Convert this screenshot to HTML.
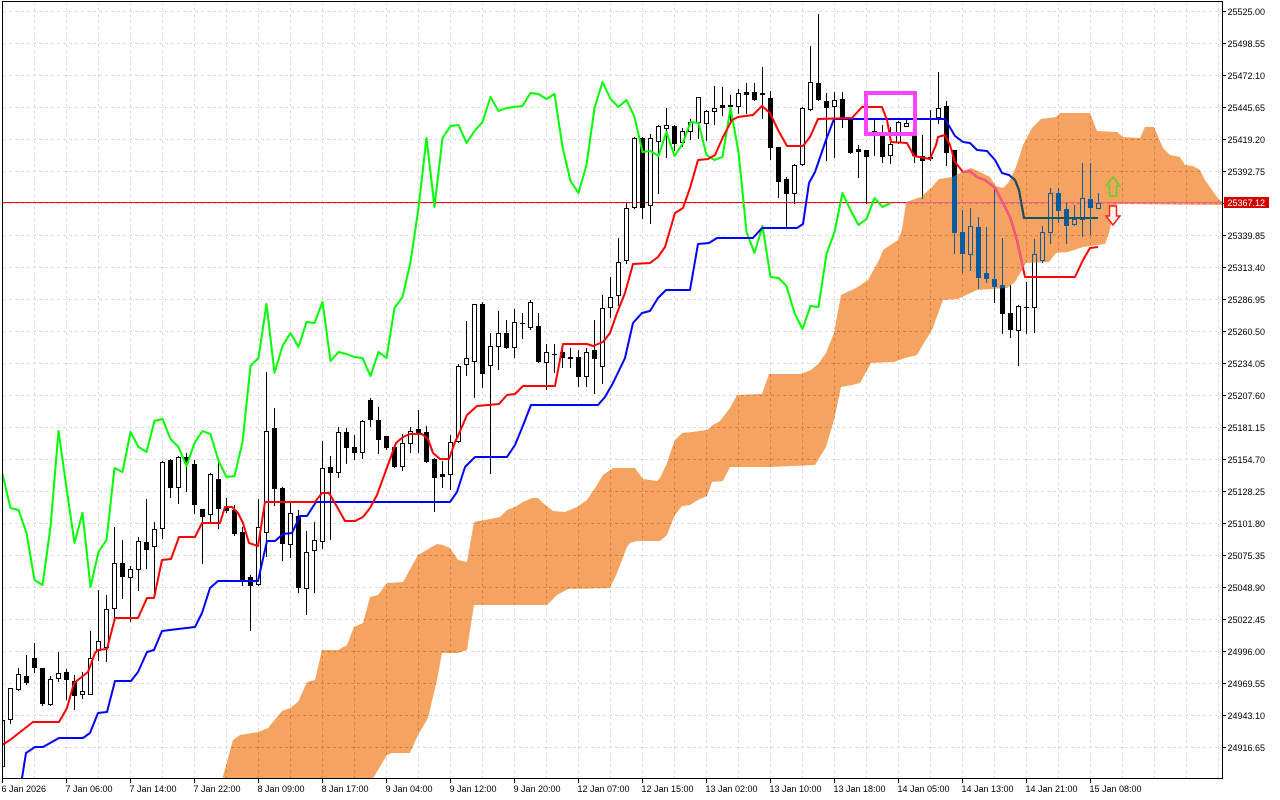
<!DOCTYPE html>
<html><head><meta charset="utf-8">
<style>
html,body{margin:0;padding:0;background:#fff;width:1280px;height:800px;overflow:hidden}
svg{display:block}
</style></head><body>
<svg id="svg" width="1280" height="800" viewBox="0 0 1280 800" xmlns="http://www.w3.org/2000/svg">
<defs><clipPath id="clip"><rect x="3" y="2" width="1219" height="776"/></clipPath></defs>
<rect width="1280" height="800" fill="#fff"/>
<g clip-path="url(#clip)">
  <rect x="0" y="0" width="1280" height="800" fill="#fff"/>
  <g id="grid" stroke="#dddddd" stroke-width="1" stroke-dasharray="3,3" fill="none"></g>
  <line x1="2" y1="202.5" x2="1222" y2="202.5" stroke="#ff0000" stroke-width="1"/>
  <g id="candles"></g>
  <polyline id="chikou" fill="none" stroke="#00ff00" stroke-width="2" stroke-linejoin="round"/>
  <polyline id="kijun" fill="none" stroke="#0000ff" stroke-width="2" stroke-linejoin="round"/>
  <polyline id="tenkan" fill="none" stroke="#ff0000" stroke-width="2" stroke-linejoin="round"/>
  <polygon id="cloud" fill="rgb(11,91,159)" style="mix-blend-mode:difference"/>
  <rect x="866" y="93" width="49" height="41" fill="none" stroke="#ff44ff" stroke-width="4"/>
  <polygon points="1113,177 1120,186 1116.5,186 1116.5,196 1109.5,196 1109.5,186 1106,186" fill="none" stroke="#66cc33" stroke-width="1.5"/>
  <polygon points="1109.5,206 1116.5,206 1116.5,216 1120,216 1113,225 1106,216 1109.5,216" fill="#fff6f0" stroke="#ff2020" stroke-width="1.5"/>
</g>
<rect x="2.5" y="1.5" width="1220" height="777" fill="none" stroke="#000" stroke-width="1"/>
<g id="ticks" stroke="#000" stroke-width="1"></g>
<g font-family="Liberation Sans, Arial, sans-serif" font-size="9" fill="#000">
<text x="1227.5" y="15">25525.00</text>
<text x="1227.5" y="47">25498.55</text>
<text x="1227.5" y="79">25472.10</text>
<text x="1227.5" y="111">25445.65</text>
<text x="1227.5" y="143">25419.20</text>
<text x="1227.5" y="175">25392.75</text>
<text x="1227.5" y="239">25339.85</text>
<text x="1227.5" y="271">25313.40</text>
<text x="1227.5" y="303">25286.95</text>
<text x="1227.5" y="335">25260.50</text>
<text x="1227.5" y="367">25234.05</text>
<text x="1227.5" y="399">25207.60</text>
<text x="1227.5" y="431">25181.15</text>
<text x="1227.5" y="463">25154.70</text>
<text x="1227.5" y="495">25128.25</text>
<text x="1227.5" y="527">25101.80</text>
<text x="1227.5" y="559">25075.35</text>
<text x="1227.5" y="591">25048.90</text>
<text x="1227.5" y="623">25022.45</text>
<text x="1227.5" y="655">24996.00</text>
<text x="1227.5" y="687">24969.55</text>
<text x="1227.5" y="719">24943.10</text>
<text x="1227.5" y="751">24916.65</text>
<text x="1.5" y="792">6 Jan 2026</text>
<text x="65.5" y="792">7 Jan 06:00</text>
<text x="129.5" y="792">7 Jan 14:00</text>
<text x="193.5" y="792">7 Jan 22:00</text>
<text x="257.5" y="792">8 Jan 09:00</text>
<text x="321.5" y="792">8 Jan 17:00</text>
<text x="385.5" y="792">9 Jan 04:00</text>
<text x="449.5" y="792">9 Jan 12:00</text>
<text x="513.5" y="792">9 Jan 20:00</text>
<text x="577.5" y="792">12 Jan 07:00</text>
<text x="641.5" y="792">12 Jan 15:00</text>
<text x="705.5" y="792">13 Jan 02:00</text>
<text x="769.5" y="792">13 Jan 10:00</text>
<text x="833.5" y="792">13 Jan 18:00</text>
<text x="897.5" y="792">14 Jan 05:00</text>
<text x="961.5" y="792">14 Jan 13:00</text>
<text x="1025.5" y="792">14 Jan 21:00</text>
<text x="1089.5" y="792">15 Jan 08:00</text>
</g>
<rect x="1224" y="197" width="45" height="11" fill="#d40000"/>
<text x="1227.5" y="206" font-family="Liberation Sans, Arial, sans-serif" font-size="9" fill="#fff">25367.12</text>
</svg>
<script>
(function(){
var NS='http://www.w3.org/2000/svg';
function el(tag,attrs,parent){var e=document.createElementNS(NS,tag);for(var k in attrs)e.setAttribute(k,attrs[k]);parent.appendChild(e);return e;}
var C=[[766,720,716,770],[719,688,688,723],[689,674,668,690],[676,682,655,684],[658,667,643,672],[668,703,668,705],[704,679,676,705],[678,673,652,681],[672,679,669,699],[681,695,675,709],
[694,691,672,698],[694,658,631,694],[650,641,590,660],[647,609,595,661],[608,563,527,618],[563,576,540,598],[577,569,566,621],[569,541,537,590],[542,549,499,568],[546,529,522,597],
[528,462,461,538],[460,487,459,497],[487,457,456,503],[457,462,453,491],[464,504,460,513],[509,516,509,563],[514,474,473,523],[479,508,463,528],[507,510,498,512],[510,533,505,535],
[532,580,527,585],[577,585,575,630],[584,527,499,585],[532,431,372,556],[428,488,408,505],[488,543,487,560],[544,513,503,557],[516,587,510,592],[588,552,531,614],[550,540,522,592],
[541,468,441,548],[467,472,456,539],[472,432,427,477],[432,447,428,463],[447,452,435,459],[452,421,420,458],[400,419,398,426],[420,439,407,453],[436,447,436,449],[447,466,445,467],
[466,443,434,470],[443,431,427,452],[429,434,410,452],[432,461,426,462],[459,477,458,511],[474,476,461,487],[474,442,435,489],[441,366,364,442],[364,358,321,375],[361,304,304,397],
[304,373,302,387],[365,346,333,473],[346,333,311,369],[333,347,320,348],[347,322,309,357],[323,323,313,338],[327,302,300,329],[326,361,313,362],[362,352,344,389],[354,354,344,372],
[352,357,344,367],[357,358,348,367],[357,376,350,386],[376,352,348,386],[350,358,320,393],[366,308,295,383],[307,297,277,317],[295,262,238,305],[260,208,203,263],[207,138,137,208],
[138,207,137,218],[205,138,134,223],[141,126,125,193],[128,125,108,157],[126,143,125,150],[142,131,128,146],[131,122,119,139],[122,97,97,138],[123,111,110,140],[111,108,86,124],
[105,107,87,115],[105,106,95,120],[106,93,89,113],[92,94,83,113],[92,99,83,100],[93,94,67,118],[98,147,91,159],[147,181,147,197],[179,193,177,226],[193,165,164,203],
[164,108,107,165],[109,82,46,110],[83,99,14,100],[101,107,93,160],[106,100,92,157],[99,117,92,127],[119,152,118,153],[149,151,145,177],[150,156,150,203],[131,132,118,155],
[132,156,125,162],[155,144,127,163],[142,122,121,143],[126,123,120,126],[135,155,119,162],[156,160,135,198],[158,157,110,160],[117,108,72,123],[106,152,101,165],[150,232,150,253],
[232,253,210,272],[254,226,208,270],[227,277,217,288],[273,278,227,282],[279,286,190,302],[285,313,238,333],[313,329,285,337],[330,306,305,365],[307,307,282,333],[307,254,239,332],
[260,232,226,262],[232,193,188,243],[193,210,188,222],[209,225,203,243],[224,219,205,225],[219,198,163,236],[199,207,163,234],[208,203,193,208]];
var cg=document.getElementById('candles');
for(var k=0;k<C.length;k++){
  var x=2.5+8*k,o=C[k][0],c=C[k][1],h=C[k][2],l=C[k][3];
  el('line',{x1:x,y1:h,x2:x,y2:l+1,stroke:'#000','stroke-width':1},cg);
  var top=Math.min(o,c),bot=Math.max(o,c);
  if(bot-top<1){el('line',{x1:x-2.5,y1:top+0.5,x2:x+2.5,y2:top+0.5,stroke:'#000','stroke-width':1},cg);}
  else{el('rect',{x:x-2,y:top+0.5,width:4,height:bot-top,fill:(c<o?'#fff':'#000'),stroke:'#000','stroke-width':1},cg);}
}
var ch=[];
for(var k=0;k+26<C.length;k++){ch.push((2.5+8*k)+','+C[k+26][1]);}
document.getElementById('chikou').setAttribute('points',ch.join(' '));
var tenkan=[[-4,748],[2,745],[10,740],[33,722],[59,722],[67,708],[74,683],[88,672],[95,653],[98,650],[107,649],[115,618],[138,618],[147,598],[154,598],[162,560],[171,559],[179,537],[195,537],[202,523],[220,523],[225,507],[232,507],[238,513],[243,523],[249,543],[258,546],[265,502],[315,502],[322,493],[329,493],[336,505],[345,521],[355,521],[363,517],[370,508],[377,495],[385,473],[396,443],[403,437],[410,434],[422,434],[428,439],[433,453],[440,459],[449,459],[455,442],[458,436],[467,415],[477,406],[499,404],[507,395],[515,394],[523,386],[555,386],[563,344],[587,344],[593,346],[603,342],[610,333],[617,313],[625,293],[633,264],[650,263],[658,257],[665,247],[675,213],[683,208],[690,188],[698,160],[708,159],[715,155],[723,137],[732,120],[738,117],[753,115],[762,106],[770,113],[778,130],[787,146],[803,146],[810,137],[818,119],[852,118],[862,107],[882,107],[887,120],[891,142],[907,143],[914,156],[930,159],[936,145],[938,137],[945,135],[950,145],[955,162],[963,172],[970,171],[977,177],[985,180],[995,188],[1003,203],[1010,217],[1017,240],[1025,277],[1075,277],[1083,260],[1090,248],[1098,247]];
var kijun=[[18,792],[22,778],[26,753],[35,747],[43,747],[59,738],[83,738],[90,733],[98,713],[107,712],[115,681],[131,681],[138,672],[147,652],[154,650],[162,631],[178,629],[195,627],[202,613],[210,588],[218,581],[258,581],[267,541],[275,541],[283,534],[292,533],[300,516],[307,516],[316,502],[450,502],[457,492],[465,467],[475,457],[507,457],[515,445],[522,428],[531,405],[598,405],[605,397],[613,383],[625,358],[633,323],[642,313],[650,311],[658,298],[666,290],[690,290],[698,244],[709,243],[717,238],[753,238],[762,228],[797,228],[803,224],[809,183],[815,172],[826,140],[834,119],[945,119],[955,136],[963,142],[970,143],[977,150],[987,151],[995,160],[1002,173],[1009,175],[1015,180],[1019,190],[1024,218],[1098,218]];
function pts(a){return a.map(function(p){return p[0]+','+p[1];}).join(' ');}
document.getElementById('tenkan').setAttribute('points',pts(tenkan));
document.getElementById('kijun').setAttribute('points',pts(kijun));
var up=[[218,785],[222,780],[233,740],[240,735],[258,732],[268,728],[282,711],[290,708],[298,702],[307,682],[315,680],[322,650],[338,650],[347,645],[354,627],[363,623],[370,597],[378,595],[387,583],[403,582],[418,555],[430,548],[437,544],[443,545],[450,548],[458,560],[467,562],[474,522],[490,519],[500,517],[507,510],[515,507],[523,502],[532,498],[538,498],[543,503],[553,511],[565,512],[577,507],[587,500],[595,488],[603,475],[613,468],[635,468],[640,475],[643,479],[657,481],[660,478],[667,463],[672,448],[675,440],[682,433],[692,432],[707,430],[713,425],[720,421],[730,408],[737,395],[762,394],[769,374],[800,374],[811,370],[819,363],[826,353],[834,333],[841,295],[856,288],[868,280],[879,260],[883,250],[898,240],[902,230],[906,202],[921,197],[932,187],[939,179],[952,177],[966,170],[971,168],[980,172],[990,177],[996,186],[1003,188],[1009,182],[1016,167],[1023,145],[1032,128],[1041,119],[1056,117],[1060,113],[1090,113],[1097,131],[1117,132],[1123,137],[1140,138],[1145,127],[1154,127],[1163,148],[1170,155],[1180,157],[1185,165],[1193,166],[1200,170],[1205,180],[1212,190],[1217,197],[1224,204]];
var lo=[[1224,205],[1117,204],[1113,215],[1109,233],[1105,244],[1083,247],[1068,252],[1056,253],[1049,262],[1026,263],[1022,270],[1015,282],[1007,288],[977,290],[966,295],[958,299],[943,300],[932,330],[924,343],[917,355],[905,358],[894,362],[871,363],[860,383],[852,385],[841,387],[834,420],[826,447],[815,465],[770,467],[730,467],[723,481],[712,482],[707,496],[698,500],[690,505],[682,506],[675,515],[672,522],[667,535],[660,541],[637,541],[630,543],[627,547],[617,573],[610,588],[568,589],[557,595],[547,605],[474,605],[467,650],[458,653],[442,653],[437,680],[428,718],[418,735],[410,753],[392,753],[387,755],[372,780],[369,785]];
document.getElementById('cloud').setAttribute('points',pts(up.concat(lo)));
var g=document.getElementById('grid');
for(var n=1;n<=38;n++){var gx=2.5+32*n;el('line',{x1:gx,y1:2,x2:gx,y2:778},g);}
for(var i=0;i<24;i++){var gy=11.5+32*i;el('line',{x1:3,y1:gy,x2:1222,y2:gy},g);}
var t=document.getElementById('ticks');
for(var i=0;i<24;i++){var ty=11.5+32*i;el('line',{x1:1222.5,y1:ty,x2:1226,y2:ty},t);}
for(var n=0;n<=17;n++){var tx=2.5+64*n;el('line',{x1:tx,y1:778.5,x2:tx,y2:783},t);}
})();
</script>
</body></html>
